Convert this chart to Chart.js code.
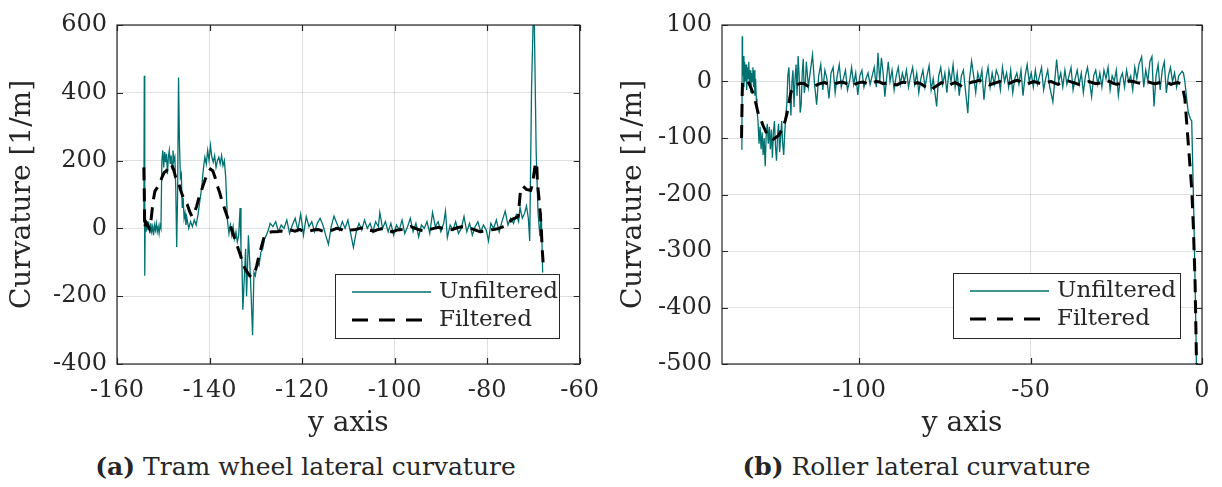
<!DOCTYPE html>
<html>
<head>
<meta charset="utf-8">
<script src="https://cdn.jsdelivr.net/npm/chart.js@4"></script>
<style>
  body { margin: 0; background: #fff; }
  #wrap { position: relative; width: 1222px; height: 487px; background: #fff; }
  canvas { position: absolute; top: 0; }
  .cap { position: absolute; top: 452px; width: 611px; text-align: center;
         font-family: 'DejaVu Serif', serif; font-size: 25px; color: #262626; }
</style>
</head>
<body>
<div id="wrap">
  <canvas id="tramChart" width="611" height="445" style="left:0"></canvas>
  <canvas id="rollerChart" width="611" height="445" style="left:611px"></canvas>
  <div class="cap" style="left:0"><b>(a)</b> Tram wheel lateral curvature</div>
  <div class="cap" style="left:611px"><b>(b)</b> Roller lateral curvature</div>
</div>
<script>
// tick labels
const tramXTicks = [-160, -140, -120, -100, -80, -60];
const tramYTicks = [600, 400, 200, 0, -200, -400];
const rollerXTicks = [-100, -50, 0];
const rollerYTicks = [100, 0, -100, -200, -300, -400, -500];

// tram wheel, [y axis, curvature]
const tramUnfiltered = [
  [-154.2, 20], [-154.1, 450], [-154.0, -140], [-153.9, 30], [-153.7, -10], [-153.5, 20], [-153.3, -5],
  [-153.1, 10], [-152.9, -15], [-152.7, 15], [-152.5, -10], [-152.3, 5], [-152.1, -20], [-151.9, 10],
  [-151.7, -5], [-151.5, 15], [-151.3, -10], [-151.1, 5], [-150.9, -15], [-150.7, 10], [-150.5, 0],
  [-150.3, 200], [-150.1, 230], [-149.9, 180], [-149.7, 225], [-149.5, 195], [-149.3, 220], [-149.1, 160],
  [-148.9, 210], [-148.7, 230], [-148.5, 190], [-148.3, 215], [-148.1, 175], [-147.9, 230], [-147.7, 200],
  [-147.5, 210], [-147.3, 120], [-147.1, -55], [-146.9, 100], [-146.7, 445], [-146.5, 250], [-146.3, 150],
  [-146.1, 160], [-145.9, 60], [-145.7, 90], [-145.5, 30], [-145.3, 45], [-145.1, 10], [-144.9, 30],
  [-144.5, 0], [-144.1, 20], [-143.7, 5], [-143.3, 25], [-142.9, 10], [-142.5, 40], [-142.1, 80],
  [-141.7, 120], [-141.3, 180], [-141.0, 210], [-140.7, 190], [-140.4, 230], [-140.1, 200], [-139.8, 245],
  [-139.5, 210], [-139.2, 195], [-138.9, 215], [-138.6, 180], [-138.3, 200], [-138.0, 210], [-137.7, 190],
  [-137.4, 215], [-137.1, 185], [-136.8, 200], [-136.5, 150], [-136.3, 80], [-136.1, 20], [-135.8, -15],
  [-135.5, 10], [-135.2, -20], [-134.9, 5], [-134.6, -30], [-134.3, -10], [-134.0, -40], [-133.7, -20],
  [-133.4, 60], [-133.2, -60], [-133.0, -100], [-132.8, -240], [-132.5, -150], [-132.2, -60], [-132.0, -200],
  [-131.8, -120], [-131.6, -20], [-131.3, -100], [-131.0, -200], [-130.7, -315], [-130.4, -130], [-130.1, -140],
  [-129.7, -100], [-129.3, -110], [-128.9, -70], [-128.5, -60], [-128.1, -30], [-127.7, -20], [-127.3, -5],
  [-126.9, 15], [-126.3, 5], [-125.7, 20], [-125.1, -10], [-124.5, 10], [-123.9, 0], [-123.3, 25],
  [-122.7, -15], [-122.1, 10], [-121.5, 30], [-120.9, -5], [-120.3, 42], [-119.7, -20], [-119.1, 35],
  [-118.5, 5], [-117.9, 20], [-117.3, -10], [-116.7, 15], [-116.1, 30], [-115.5, 10], [-114.9, -20],
  [-114.3, -47], [-113.7, 5], [-113.1, 36], [-112.5, 15], [-111.9, -5], [-111.3, 20], [-110.7, 0],
  [-110.1, 25], [-109.5, -15], [-108.9, -56], [-108.3, -10], [-107.7, 15], [-107.1, -5], [-106.5, 25],
  [-105.9, 0], [-105.3, 15], [-104.7, -10], [-104.1, 20], [-103.5, 5], [-103.2, 47], [-102.6, 0],
  [-102.0, 20], [-101.4, -10], [-100.8, 15], [-100.2, -20], [-99.6, 10], [-99.0, -5], [-98.4, 25],
  [-97.8, -15], [-97.2, 5], [-96.6, 30], [-96.0, -10], [-95.4, 15], [-94.8, -25], [-94.2, 10],
  [-93.6, 0], [-93.0, 20], [-92.4, -15], [-91.8, 47], [-91.2, 5], [-90.6, 20], [-90.0, -10],
  [-89.4, 15], [-89.0, 51], [-88.6, -27], [-88.0, 10], [-87.4, -5], [-86.8, 20], [-86.2, -15],
  [-85.6, 0], [-85.0, 35], [-84.4, -10], [-83.8, 15], [-83.2, -20], [-82.6, 5], [-82.0, 20],
  [-81.4, -10], [-80.8, 10], [-80.2, -5], [-79.7, -37], [-79.2, 15], [-78.6, 0], [-78.0, 25],
  [-77.4, -10], [-76.8, 20], [-76.1, 51], [-75.5, 10], [-74.9, 30], [-74.3, 15], [-73.7, 40],
  [-73.2, 20], [-72.9, 62], [-72.4, 30], [-71.9, 45], [-71.5, 66], [-71.1, 30], [-70.8, -37],
  [-70.4, 413], [-69.9, 700], [-69.4, 224], [-69.0, 47], [-68.6, -23], [-68.3, 47], [-68.0, -130]
];
const tramFiltered = [
  [-154.2, 180], [-154.1, 100], [-154.0, 0], [-153.8, 20], [-153.4, 10], [-153.0, 0], [-152.6, 30],
  [-152.2, 80], [-151.8, 110], [-151.3, 120], [-150.8, 130], [-150.3, 150], [-149.8, 165], [-149.3, 170],
  [-148.8, 185], [-148.3, 190], [-147.8, 175], [-147.3, 150], [-146.8, 140], [-146.3, 115], [-145.8, 95],
  [-145.3, 80], [-144.8, 70], [-144.3, 50], [-143.8, 35], [-143.3, 45], [-142.8, 65], [-142.3, 90],
  [-141.8, 110], [-141.3, 130], [-140.8, 150], [-140.3, 165], [-139.8, 175], [-139.3, 170], [-138.8, 150],
  [-138.3, 125], [-137.8, 105], [-137.3, 80], [-136.8, 60], [-136.3, 40], [-135.8, 20], [-135.3, 0],
  [-134.8, -20], [-134.3, -40], [-133.8, -60], [-133.3, -80], [-132.8, -105], [-132.3, -120], [-131.8, -130],
  [-131.3, -140], [-130.8, -142], [-130.3, -135], [-129.8, -110], [-129.3, -80], [-128.8, -55], [-128.3, -30],
  [-127.8, -18], [-127.3, -12], [-126.5, -10], [-125.5, -10], [-124.5, -8], [-123.5, -10], [-122.5, -5],
  [-121.5, -8], [-120.5, -3], [-119.5, -10], [-118.5, -8], [-117.5, -5], [-116.5, -3], [-115.5, -8],
  [-114.5, -10], [-113.5, -5], [-112.5, 0], [-111.5, -3], [-110.5, -10], [-109.5, -5], [-108.5, -3],
  [-107.5, 0], [-106.5, 3], [-105.5, -5], [-104.5, -8], [-103.5, -3], [-102.5, 0], [-101.5, -5],
  [-100.5, -10], [-99.5, -5], [-98.5, -3], [-97.5, 0], [-96.5, 5], [-95.5, 0], [-94.5, -5],
  [-93.5, -8], [-92.5, -3], [-91.5, 0], [-90.5, 3], [-89.5, 0], [-88.5, -5], [-87.5, -3],
  [-86.5, 2], [-85.5, 5], [-84.5, 3], [-83.5, 0], [-82.5, -5], [-81.5, -10], [-80.5, -8],
  [-79.5, -5], [-78.5, -3], [-77.5, 0], [-76.5, 5], [-75.5, 10], [-74.8, 25], [-74.0, 30],
  [-73.3, 35], [-72.8, 110], [-72.3, 125], [-71.5, 115], [-70.6, 112], [-70.2, 130], [-69.6, 190],
  [-69.3, 195], [-69.1, 130], [-68.8, 90], [-68.5, 40], [-68.3, 0], [-68.1, -60], [-67.9, -100]
];

// roller, [y axis, curvature]
const rollerUnfiltered = [
  [-134.2, -121], [-134.1, 80], [-134.0, 10], [-133.8, 45], [-133.6, -10], [-133.4, 35], [-133.2, 0],
  [-133.0, 30], [-132.8, -15], [-132.6, 25], [-132.4, 5], [-132.2, 35], [-132.0, -5], [-131.8, 20],
  [-131.6, -20], [-131.4, 15], [-131.2, 0], [-131.0, 25], [-130.8, -10], [-130.6, 20], [-130.4, -25],
  [-130.2, 5], [-130.0, -30], [-129.8, -50], [-129.5, -70], [-129.2, -110], [-128.9, -80], [-128.6, -120],
  [-128.3, -90], [-128.0, -130], [-127.7, -100], [-127.4, -150], [-127.1, -95], [-126.8, -75], [-126.5, -110],
  [-126.2, -80], [-125.9, -120], [-125.6, -85], [-125.3, -135], [-125.0, -90], [-124.7, -70], [-124.4, -115],
  [-124.1, -140], [-123.8, -95], [-123.5, -75], [-123.2, -125], [-122.9, -100], [-122.6, -70], [-122.3, -110],
  [-122.0, -130], [-121.7, -90], [-121.4, -60], [-121.1, -40], [-120.8, 10], [-120.5, 25], [-120.2, -20],
  [-119.9, -60], [-119.6, 0], [-119.3, 20], [-119.0, -45], [-118.7, 5], [-118.4, 30], [-118.1, -25],
  [-117.8, 45], [-117.5, 10], [-117.2, -55], [-116.9, -40], [-116.6, 15], [-116.3, 40], [-116.0, -20],
  [-115.7, -5], [-115.4, 35], [-114.8, -10], [-114.2, 20], [-113.6, 47], [-113.0, -5], [-112.4, -41],
  [-111.8, 10], [-111.2, 30], [-110.6, -15], [-110.0, 20], [-109.4, 5], [-108.8, -30], [-108.2, 15],
  [-107.6, 25], [-107.0, -20], [-106.4, 10], [-105.8, 30], [-105.2, -10], [-104.6, 5], [-104.0, 20],
  [-103.4, -15], [-102.8, 0], [-102.2, 25], [-101.6, -5], [-101.0, 15], [-100.4, -24], [-99.8, 10],
  [-99.2, 20], [-98.6, -10], [-98.0, 5], [-97.4, 15], [-96.8, -5], [-96.2, 10], [-95.6, 25],
  [-95.0, -10], [-94.5, 51], [-94.0, 0], [-93.5, 42], [-93.0, 15], [-92.5, -27], [-92.0, 5],
  [-91.5, 35], [-91.0, 0], [-90.4, 20], [-89.8, -15], [-89.2, 10], [-88.6, 25], [-88.0, -5],
  [-87.4, 15], [-86.8, 0], [-86.2, 20], [-85.6, -10], [-85.0, 10], [-84.4, 25], [-83.8, -5],
  [-83.2, 15], [-82.6, -20], [-82.0, 5], [-81.4, 20], [-80.8, -10], [-80.2, 10], [-79.6, 28],
  [-79.0, -15], [-78.4, 5], [-77.4, -44], [-76.8, 10], [-76.2, 25], [-75.6, -5], [-75.0, 15],
  [-74.4, -20], [-73.8, 20], [-73.2, 0], [-72.6, 30], [-72.0, -10], [-71.4, 15], [-70.8, -25],
  [-70.2, 10], [-69.6, 20], [-69.0, -15], [-68.3, -56], [-67.8, 5], [-67.2, 36], [-66.6, 10],
  [-66.0, -20], [-65.4, 15], [-64.8, 0], [-64.2, 20], [-63.6, -32], [-63.0, 5], [-62.4, 25],
  [-61.8, -10], [-61.2, 15], [-60.6, -5], [-60.0, 20], [-59.4, 10], [-58.8, -15], [-58.2, 25],
  [-57.6, 0], [-57.0, 15], [-56.4, -10], [-55.8, 20], [-55.2, -20], [-54.6, 5], [-54.0, 15],
  [-53.4, -5], [-52.8, 20], [-52.2, -25], [-51.6, 10], [-51.0, 30], [-50.4, 0], [-49.8, 15],
  [-49.2, -10], [-48.6, 20], [-48.0, -5], [-47.4, 10], [-46.8, 25], [-46.2, -15], [-45.6, 5],
  [-45.0, 20], [-44.4, -10], [-43.5, -36], [-42.4, 39], [-41.8, 0], [-41.2, 15], [-40.6, -10],
  [-40.0, 20], [-39.4, -5], [-38.8, 10], [-38.2, 25], [-37.6, -15], [-37.0, 5], [-36.4, 20],
  [-35.8, -5], [-35.2, 15], [-34.6, -20], [-34.0, 10], [-33.4, 25], [-32.8, 0], [-32.2, -27],
  [-31.6, 10], [-31.0, 20], [-30.4, -5], [-29.8, 15], [-29.2, -10], [-28.6, 20], [-28.0, 5],
  [-27.4, 25], [-26.8, -15], [-26.2, 10], [-25.6, 0], [-25.0, 20], [-24.4, -25], [-23.8, 5],
  [-23.2, 15], [-22.6, -10], [-22.0, 20], [-21.4, 0], [-20.8, 10], [-20.2, -15], [-19.6, 25],
  [-19.0, 5], [-18.4, 30], [-17.6, 44], [-17.0, -10], [-16.4, 20], [-15.8, 0], [-15.2, 35],
  [-14.6, 44], [-14.0, -44], [-13.4, 10], [-12.8, 30], [-12.2, -15], [-11.6, 20], [-11.0, 35],
  [-10.4, -20], [-9.8, 10], [-9.2, 25], [-8.6, 0], [-8.0, 15], [-7.4, -10], [-6.8, 10],
  [-6.2, 15], [-5.8, 18], [-5.4, 15], [-5.0, 0], [-4.5, -29], [-4.0, -55], [-3.4, -66],
  [-3.0, -70], [-2.7, -150], [-2.4, -230], [-2.1, -330], [-1.8, -430], [-1.6, -520]
];
const rollerFiltered = [
  [-134.3, -100], [-134.2, -60], [-134.1, -20], [-134.0, 0], [-133.5, 2], [-133.0, 3], [-132.5, 0],
  [-132.0, -5], [-131.5, -12], [-131.0, -20], [-130.5, -30], [-130.0, -42], [-129.5, -55], [-129.0, -62],
  [-128.5, -70], [-128.0, -78], [-127.5, -85], [-127.0, -92], [-126.5, -95], [-126.0, -98], [-125.5, -100],
  [-125.0, -102], [-124.5, -100], [-124.0, -98], [-123.5, -96], [-123.0, -90], [-122.5, -85], [-122.0, -78],
  [-121.5, -68], [-121.0, -55], [-120.5, -38], [-120.0, -22], [-119.5, -12], [-119.0, -8], [-118.0, -5],
  [-117.0, -3], [-116.0, -4], [-115.0, -8], [-114.0, -12], [-113.0, -8], [-112.0, -5], [-111.0, -3],
  [-110.0, -2], [-109.0, -5], [-108.0, -7], [-107.0, -4], [-106.0, -2], [-105.0, -1], [-104.0, -3],
  [-103.0, -6], [-102.0, -8], [-101.0, -4], [-100.0, -2], [-99.0, -1], [-98.0, -3], [-97.0, -5],
  [-96.0, -2], [-95.0, 0], [-94.0, -1], [-93.0, -4], [-92.0, -3], [-91.0, -2], [-90.0, -5],
  [-89.0, -6], [-88.0, -3], [-87.0, -1], [-86.0, -3], [-85.0, -5], [-84.0, -4], [-83.0, -2],
  [-82.0, -4], [-81.0, -8], [-80.0, -12], [-79.0, -15], [-78.0, -10], [-77.0, -6], [-76.0, -2],
  [-75.0, -5], [-74.0, -8], [-73.0, -4], [-72.0, -2], [-71.0, -5], [-70.0, -9], [-69.0, -6],
  [-68.0, -3], [-67.0, -1], [-66.0, 0], [-65.0, 2], [-64.0, 0], [-63.0, -3], [-62.0, -6],
  [-61.0, -4], [-60.0, -2], [-59.0, 0], [-58.0, -2], [-57.0, -5], [-56.0, -3], [-55.0, 0],
  [-54.0, 2], [-53.0, 0], [-52.0, -3], [-51.0, -5], [-50.0, -2], [-49.0, 0], [-48.0, -2],
  [-47.0, -4], [-46.0, -3], [-45.0, -1], [-44.0, 0], [-43.0, -3], [-42.0, -5], [-41.0, -2],
  [-40.0, 0], [-39.0, 1], [-38.0, -1], [-37.0, -3], [-36.0, -5], [-35.0, -3], [-34.0, -1],
  [-33.0, 0], [-32.0, -2], [-31.0, -4], [-30.0, -3], [-29.0, 0], [-28.0, 2], [-27.0, 0],
  [-26.0, -3], [-25.0, -5], [-24.0, -4], [-23.0, -2], [-22.0, 0], [-21.0, 1], [-20.0, 0],
  [-19.0, -2], [-18.0, -3], [-17.0, -1], [-16.0, 0], [-15.0, -2], [-14.0, -4], [-13.0, -3],
  [-12.0, -1], [-11.0, 0], [-10.0, -2], [-9.0, -5], [-8.0, -3], [-7.0, -2], [-6.0, -5],
  [-5.5, -15], [-5.0, -30], [-4.0, -110], [-3.0, -190], [-2.5, -260], [-2.0, -360], [-1.6, -500],
  [-1.5, -530]
];

const teal = 'rgb(0, 112, 112)';
const axisColor = '#262626';

Chart.defaults.font.family = "'DejaVu Serif', serif";
Chart.defaults.color = axisColor;

// box, inward ticks and a MATLAB-ish legend
const framePlugin = {
  id: 'frame',
  afterDraw(chart, args, opts) {
    const { ctx, chartArea: a, scales } = chart;
    ctx.save();
    ctx.strokeStyle = axisColor;
    ctx.lineWidth = 1.2;
    ctx.beginPath();
    scales.x.ticks.forEach(t => {
      const px = Math.round(scales.x.getPixelForValue(t.value)) + 0.5;
      ctx.moveTo(px, a.bottom); ctx.lineTo(px, a.bottom - 6);
      ctx.moveTo(px, a.top); ctx.lineTo(px, a.top + 6);
    });
    scales.y.ticks.forEach(t => {
      const py = Math.round(scales.y.getPixelForValue(t.value)) + 0.5;
      ctx.moveTo(a.left, py); ctx.lineTo(a.left + 6, py);
      ctx.moveTo(a.right, py); ctx.lineTo(a.right - 6, py);
    });
    ctx.stroke();
    ctx.strokeRect(a.left, a.top, a.right - a.left, a.bottom - a.top);

    const lg = opts.legend;
    ctx.fillStyle = '#fff';
    ctx.fillRect(lg.x, lg.y, lg.w, lg.h);
    ctx.lineWidth = 1;
    ctx.strokeRect(lg.x + 0.5, lg.y + 0.5, lg.w, lg.h);
    ctx.font = "23px 'DejaVu Serif', serif";
    ctx.textBaseline = 'middle';
    chart.data.datasets.forEach((ds, i) => {
      const cy = lg.y + 18 + i * 28;
      ctx.beginPath();
      ctx.strokeStyle = ds.borderColor;
      ctx.lineWidth = ds.borderWidth;
      ctx.setLineDash(ds.borderDash ? [16, 11] : []);
      ctx.moveTo(lg.x + 17, cy);
      ctx.lineTo(lg.x + 96, cy);
      ctx.stroke();
      ctx.setLineDash([]);
      ctx.fillStyle = axisColor;
      ctx.fillText(ds.label, lg.x + 104, cy);
    });
    ctx.restore();
  }
};

function makeChart(id, unfiltered, filtered, xr, yr, xTicks, yTicks, pad, yWidth, legend) {
  const ctx = document.getElementById(id).getContext('2d');
  return new Chart(ctx, {
    type: 'line',
    data: {
      datasets: [
        { label: 'Unfiltered', data: unfiltered.map(([x, y]) => ({ x, y })), borderColor: teal,
          borderWidth: 1.3, pointRadius: 0, order: 2 },
        { label: 'Filtered', data: filtered.map(([x, y]) => ({ x, y })), borderColor: '#000',
          borderWidth: 3, borderDash: [13, 8], pointRadius: 0, order: 1 }
      ]
    },
    options: {
      responsive: false,
      animation: false,
      layout: { padding: pad },
      plugins: {
        legend: { display: false },
        tooltip: { enabled: false },
        frame: { legend: legend }
      },
      scales: {
        x: {
          type: 'linear', min: xr[0], max: xr[1],
          afterBuildTicks: s => { s.ticks = xTicks.map(v => ({ value: v })); },
          afterFit: s => { s.height = 81; },
          grid: { color: 'rgba(38,38,38,0.15)', drawTicks: false },
          border: { display: false },
          ticks: { font: { size: 24 }, padding: 12, maxRotation: 0 },
          title: { display: true, text: 'y axis', font: { size: 28 }, padding: { top: 0, bottom: 4 } }
        },
        y: {
          min: yr[0], max: yr[1],
          afterBuildTicks: s => { s.ticks = yTicks.map(v => ({ value: v })); },
          afterFit: s => { s.width = yWidth; },
          grid: { color: 'rgba(38,38,38,0.15)', drawTicks: false },
          border: { display: false },
          ticks: { font: { size: 24 }, padding: 10 },
          title: { display: true, text: 'Curvature [1/m]', font: { size: 28 }, padding: { top: 6, bottom: 0 } }
        }
      }
    },
    plugins: [framePlugin]
  });
}

document.addEventListener('DOMContentLoaded', function() {
  makeChart('tramChart', tramUnfiltered, tramFiltered, [-160, -60], [-400, 600],
    tramXTicks, tramYTicks, { top: 25, right: 26, left: 0, bottom: 0 }, 117,
    { x: 335, y: 274, w: 224, h: 64 });
  makeChart('rollerChart', rollerUnfiltered, rollerFiltered, [-140, 0], [-500, 100],
    rollerXTicks, rollerYTicks, { top: 25, right: 20, left: 0, bottom: 0 }, 111,
    { x: 342, y: 273, w: 227, h: 65 });
});
</script>
</body>
</html>
